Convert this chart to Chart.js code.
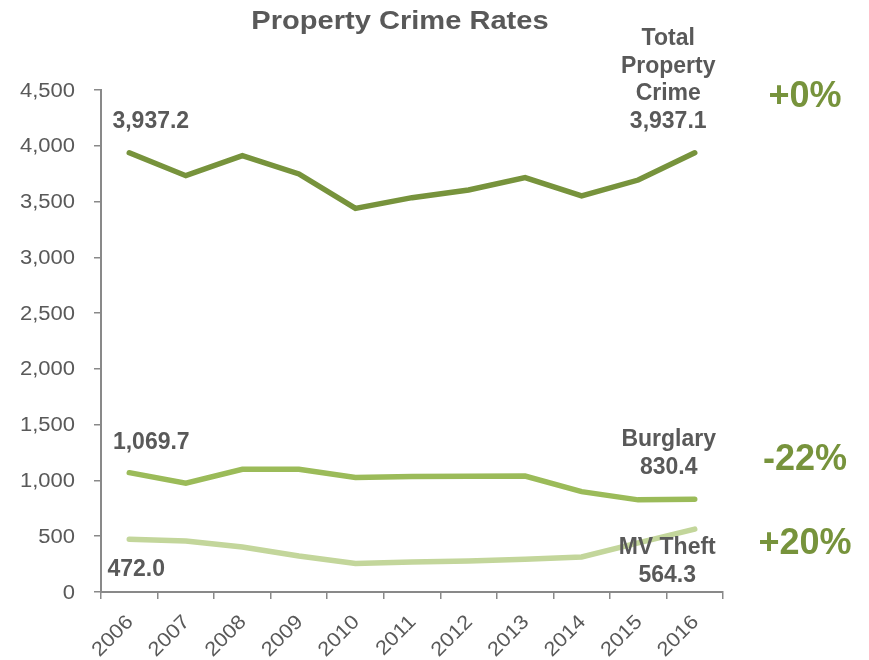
<!DOCTYPE html>
<html>
<head>
<meta charset="utf-8">
<script src="https://cdn.jsdelivr.net/npm/chart.js@4.4.1/dist/chart.umd.min.js"></script>
<style>
  html, body { margin: 0; padding: 0; background: #ffffff; }
  #wrap { width: 869px; height: 660px; }
</style>
</head>
<body>
<div id="wrap"><canvas id="c" width="869" height="660"></canvas></div>
<script>
// ---- data ----
const years = ['2006','2007','2008','2009','2010','2011','2012','2013','2014','2015','2016'];
const totalProperty = [3937.2, 3732, 3911, 3747, 3439, 3535, 3604, 3714, 3550, 3693, 3937.1];
const burglary      = [1069.7, 975, 1100, 1100, 1026, 1035, 1038, 1040, 900, 826, 830.4];
const mvTheft       = [472.0, 457, 403, 322, 256, 269, 278, 293, 314, 440, 564.3];
const yTicks = [0, 500, 1000, 1500, 2000, 2500, 3000, 3500, 4000, 4500];
const changes = ['+0%', '-22%', '+20%'];
const titleText = 'Property Crime Rates';

const GREY = '#595959';
const AXIS = '#898989';
const C_TOTAL = '#77933c';
const C_BURG = '#9bbb59';
const C_MV = '#c3d69b';
const FONT = '"Liberation Sans", Arial, Helvetica, sans-serif';

function fmt(v, dec) {
  return v.toLocaleString('en-US', { minimumFractionDigits: dec, maximumFractionDigits: dec });
}

function txt(ctx, s, x, y, font, color, align, sx, baseline) {
  ctx.save();
  ctx.translate(x, y);
  ctx.scale(sx || 1, 1);
  ctx.font = font;
  ctx.fillStyle = color;
  ctx.textAlign = align || 'center';
  ctx.textBaseline = baseline || 'alphabetic';
  ctx.fillText(s, 0, 0);
  ctx.restore();
}

const textPlugin = {
  id: 'textPlugin',
  afterDraw(chart) {
    const ctx = chart.ctx;
    const xs = chart.scales.x, ys = chart.scales.y;
    // title
    txt(ctx, titleText, 400, 29, 'bold 25.5px ' + FONT, GREY, 'center', 1.14);
    // y tick labels
    yTicks.forEach(v => {
      txt(ctx, fmt(v, 0), 75, ys.getPixelForValue(v) + 1, '20px ' + FONT, GREY, 'right', 1.1, 'middle');
    });
    // x tick labels (rotated)
    years.forEach((y, i) => {
      const px = xs.getPixelForValue(i);
      ctx.save();
      ctx.translate(px + 1, 619);
      ctx.rotate(-Math.PI / 4);
      ctx.scale(1.1, 1);
      ctx.font = '20px ' + FONT;
      ctx.fillStyle = GREY;
      ctx.textAlign = 'right';
      ctx.textBaseline = 'middle';
      ctx.fillText(y, 0, 0);
      ctx.restore();
    });
    const last = years.length - 1;
    const bf = 'bold 23px ' + FONT;
    const x0 = xs.getPixelForValue(0), xl = xs.getPixelForValue(last);
    // start labels
    txt(ctx, fmt(totalProperty[0], 1), x0 + 21.5, ys.getPixelForValue(totalProperty[0]) - 25, bf, GREY, 'center');
    txt(ctx, fmt(burglary[0], 1), x0 + 22, ys.getPixelForValue(burglary[0]) - 24, bf, GREY, 'center');
    txt(ctx, fmt(mvTheft[0], 1), x0 + 7, ys.getPixelForValue(mvTheft[0]) + 37, bf, GREY, 'center');
    // end labels
    const yt = ys.getPixelForValue(totalProperty[last]) - 24.6;
    const lh = 27.7;
    txt(ctx, 'Total', xl - 26.5, yt - 3 * lh, bf, GREY, 'center');
    txt(ctx, 'Property', xl - 26.5, yt - 2 * lh, bf, GREY, 'center');
    txt(ctx, 'Crime', xl - 26.5, yt - lh, bf, GREY, 'center');
    txt(ctx, fmt(totalProperty[last], 1), xl - 26.5, yt, bf, GREY, 'center');
    const yb = ys.getPixelForValue(burglary[last]) - 25.3;
    txt(ctx, 'Burglary', xl - 26, yb - lh, bf, GREY, 'center');
    txt(ctx, fmt(burglary[last], 1), xl - 26, yb, bf, GREY, 'center');
    const ym = ys.getPixelForValue(mvTheft[last]) + 52.7;
    txt(ctx, 'MV Theft', xl - 27.5, ym - lh, bf, GREY, 'center');
    txt(ctx, fmt(mvTheft[last], 1), xl - 27.5, ym, bf, GREY, 'center');
    // change percentages
    const pf = 'bold 36px ' + FONT;
    txt(ctx, changes[0], 805, yt - 21, pf, C_TOTAL, 'center');
    txt(ctx, changes[1], 805, yb - 4.5, pf, C_TOTAL, 'center');
    txt(ctx, changes[2], 805, ym - 27.5, pf, C_TOTAL, 'center');
  }
};

const lineDs = (label, data, color) => ({
  label, data,
  borderColor: color,
  backgroundColor: color,
  borderWidth: 5.5,
  pointRadius: 0,
  pointHoverRadius: 0,
  tension: 0,
  fill: false,
  borderCapStyle: 'round',
  borderJoinStyle: 'miter'
});

new Chart(document.getElementById('c'), {
  type: 'line',
  data: {
    labels: years,
    datasets: [
      lineDs('MV Theft', mvTheft, C_MV),
      lineDs('Burglary', burglary, C_BURG),
      lineDs('Total Property Crime', totalProperty, C_TOTAL)
    ]
  },
  options: {
    responsive: false,
    animation: false,
    devicePixelRatio: 1,
    layout: { padding: { top: 90, right: 146, left: 0, bottom: 0 } },
    plugins: {
      legend: { display: false },
      title: { display: false },
      tooltip: { enabled: false }
    },
    scales: {
      x: {
        type: 'category',
        offset: true,
        grid: { display: true, drawOnChartArea: false, drawTicks: true, tickLength: 7, offset: true, color: AXIS, lineWidth: 1.5 },
        border: { display: true, color: AXIS, width: 2 },
        ticks: { display: false },
        afterFit(scale) { scale.height = 68; }
      },
      y: {
        min: 0, max: 4500,
        afterBuildTicks(scale) { scale.ticks = yTicks.map(v => ({ value: v })); },
        grid: { display: true, drawOnChartArea: false, drawTicks: true, tickLength: 7, color: AXIS, lineWidth: 1.5 },
        border: { display: true, color: AXIS, width: 2 },
        ticks: { display: false },
        afterFit(scale) { scale.width = 101; }
      }
    }
  },
  plugins: [textPlugin]
});
</script>
</body>
</html>
